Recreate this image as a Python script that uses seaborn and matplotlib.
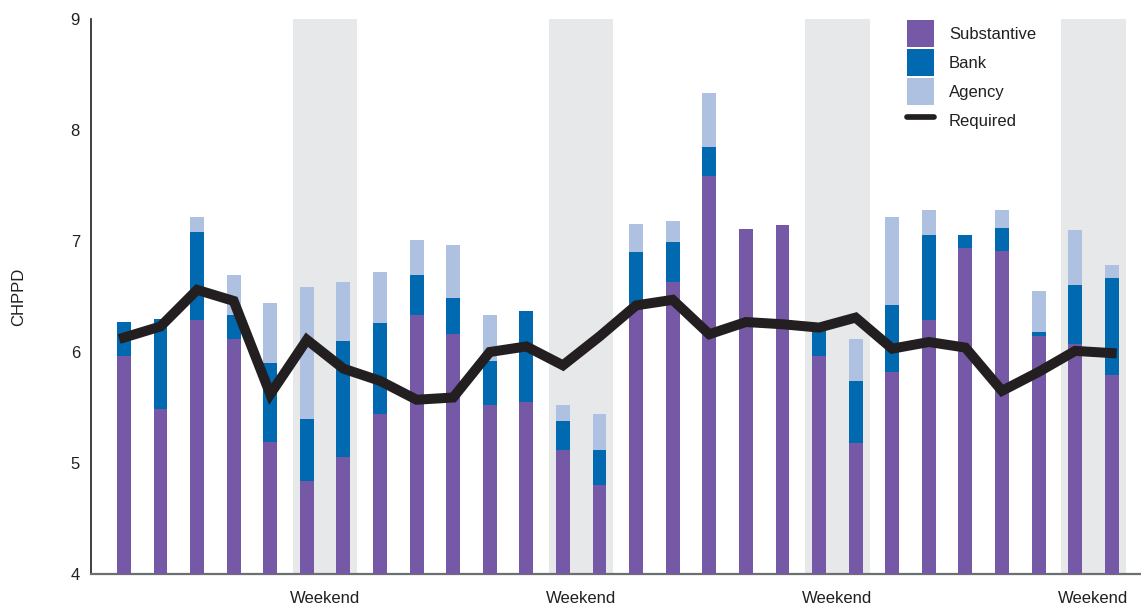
import numpy as np
import pandas as pd
import matplotlib
matplotlib.use("Agg")
import matplotlib.pyplot as plt
from matplotlib.patches import Patch
from matplotlib.lines import Line2D
import seaborn as sns

# ---- data ----
days = list(range(28))
substantive = [5.96, 5.49, 6.29, 6.12, 5.19, 4.84, 5.05, 5.44, 6.33, 6.16,
               5.52, 5.55, 5.12, 4.80, 6.44, 6.63, 7.59, 7.11, 7.14, 5.96,
               5.18, 5.82, 6.29, 6.94, 6.91, 6.14, 6.07, 5.79]
bank = [0.31, 0.81, 0.79, 0.21, 0.71, 0.56, 1.05, 0.82, 0.36, 0.33,
        0.40, 0.82, 0.26, 0.32, 0.46, 0.36, 0.26, 0.00, 0.00, 0.26,
        0.56, 0.60, 0.76, 0.11, 0.21, 0.04, 0.53, 0.88]
agency = [0.00, 0.00, 0.14, 0.36, 0.54, 1.19, 0.53, 0.46, 0.32, 0.47,
          0.41, 0.00, 0.14, 0.32, 0.25, 0.19, 0.48, 0.00, 0.00, 0.00,
          0.38, 0.80, 0.23, 0.00, 0.16, 0.37, 0.50, 0.11]
required = [6.13, 6.23, 6.56, 6.46, 5.62, 6.11, 5.85, 5.74, 5.57, 5.59,
            6.00, 6.05, 5.88, 6.14, 6.42, 6.47, 6.16, 6.27, 6.25, 6.22,
            6.31, 6.03, 6.09, 6.04, 5.65, 5.82, 6.01, 5.99]
weekend_starts = [5, 12, 19, 26]
weekend_label = "Weekend"
series_labels = ["Substantive", "Bank", "Agency", "Required"]
y_ticks = [4, 5, 6, 7, 8, 9]
y_label = "CHPPD"

# ---- style ----
C_SUB = "#7559a6"
C_BANK = "#0069b0"
C_AG = "#aec1e1"
C_SHADE = "#e7e8ea"
C_LINE = "#231f20"
C_TEXT = "#231f20"
FS = 12

sns.set_style("white")
plt.rcParams["font.family"] = ["Liberation Sans Narrow", "Liberation Sans", "DejaVu Sans"]

df = pd.DataFrame({"day": days, "sub": substantive, "bank": bank,
                   "agency": agency, "required": required})
df["lvl_bank"] = df["sub"] + df["bank"]
df["lvl_ag"] = df["lvl_bank"] + df["agency"]

fig = plt.figure(figsize=(11.41, 6.05), dpi=100)
ax = fig.add_axes([91 / 1141, 31 / 605, 1050 / 1141, 555 / 605])

bw = 0.38
for ws in weekend_starts:
    ax.axvspan(ws - bw, ws + 1 + bw, color=C_SHADE, lw=0, zorder=0)

sns.barplot(data=df, x="day", y="lvl_ag", color=C_AG, width=bw,
            saturation=1, linewidth=0, edgecolor="none", ax=ax, zorder=2)
sns.barplot(data=df, x="day", y="lvl_bank", color=C_BANK, width=bw,
            saturation=1, linewidth=0, edgecolor="none", ax=ax, zorder=3)
sns.barplot(data=df, x="day", y="sub", color=C_SUB, width=bw,
            saturation=1, linewidth=0, edgecolor="none", ax=ax, zorder=4)
sns.lineplot(data=df, x="day", y="required", color=C_LINE, linewidth=7.2,
             ax=ax, zorder=5, solid_capstyle="projecting",
             solid_joinstyle="miter")

ax.set_xlim(-0.9, 27.8)
ax.set_ylim(4, 9)
ax.set_yticks(y_ticks)
ax.set_yticklabels([str(t) for t in y_ticks])
ax.set_xticks([ws + 0.5 for ws in weekend_starts])
ax.set_xticklabels([weekend_label] * len(weekend_starts))
ax.tick_params(axis="both", length=0, labelsize=FS, colors=C_TEXT)
ax.tick_params(axis="x", pad=12)
ax.tick_params(axis="y", pad=8)
ax.set_xlabel("")
ax.set_ylabel(y_label, fontsize=FS, color=C_TEXT)
ax.yaxis.set_label_coords(-0.062, 0.5)

for s in ["top", "right"]:
    ax.spines[s].set_visible(False)
ax.spines["left"].set_color("#231f20")
ax.spines["left"].set_linewidth(1.2)
ax.spines["bottom"].set_color("#6d6e70")
ax.spines["bottom"].set_linewidth(1.6)

handles = [Patch(facecolor=C_SUB, edgecolor="none"),
           Patch(facecolor=C_BANK, edgecolor="none"),
           Patch(facecolor=C_AG, edgecolor="none"),
           Line2D([0], [0], color=C_LINE, linewidth=4.1)]
leg = ax.legend(handles, series_labels, loc="upper left",
                bbox_to_anchor=(816 / 1050, 0.998), frameon=False,
                fontsize=FS, handlelength=1.62, handleheight=2.1,
                labelspacing=0.14, handletextpad=0.9, borderaxespad=0,
                borderpad=0)
for t in leg.get_texts():
    t.set_color(C_TEXT)

fig.savefig("out.png", dpi=100)
